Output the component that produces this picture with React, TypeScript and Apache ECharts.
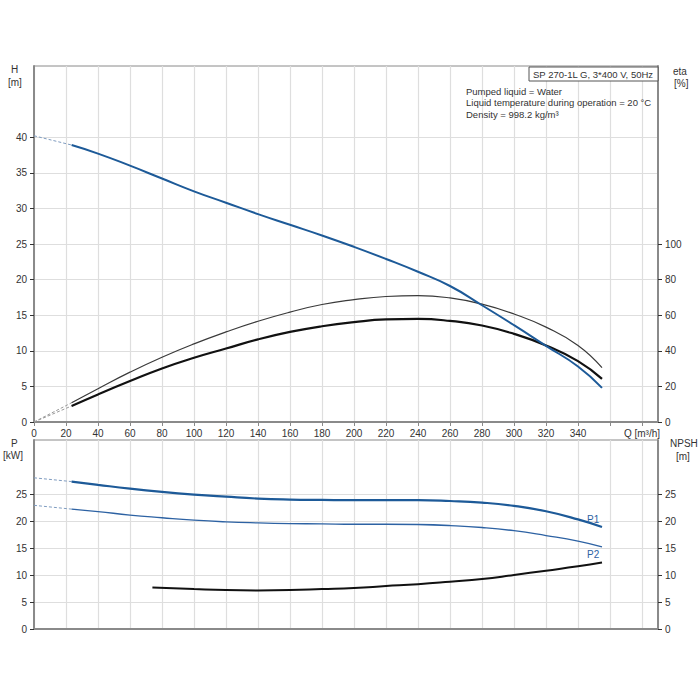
import React, { useEffect, useRef } from "react";
import * as echarts from "echarts";

// Flow values (m³/h) at which the curves were read
const qMain = [23.5, 40, 60, 80, 100, 120, 140, 160, 180, 200, 220, 240, 260, 280, 300, 320, 340, 355];
// Head H [m]
const headH = [38.9, 37.7, 36.0, 34.2, 32.4, 30.8, 29.2, 27.7, 26.2, 24.6, 22.9, 21.1, 19.1, 16.4, 13.6, 10.7, 7.8, 4.8];
// Efficiency (pump) [%]
const etaPump = [10.8, 18.7, 28.0, 36.4, 43.9, 50.6, 56.6, 61.7, 66.0, 68.7, 70.5, 71.0, 69.7, 66.2, 60.7, 53.3, 43.0, 30.5];
// Efficiency (total) [%]
const etaTotal = [9.0, 15.5, 23.0, 30.1, 36.1, 41.3, 46.4, 50.6, 53.8, 56.1, 57.6, 57.9, 56.8, 54.2, 49.5, 43.0, 34.2, 24.2];
// Power P1 / P2 [kW]
const powerP1 = [27.3, 26.7, 26.0, 25.4, 24.9, 24.5, 24.15, 23.97, 23.9, 23.85, 23.85, 23.85, 23.7, 23.4, 22.8, 21.8, 20.3, 18.9];
const powerP2 = [22.2, 21.75, 21.1, 20.6, 20.15, 19.84, 19.65, 19.53, 19.47, 19.4, 19.4, 19.35, 19.16, 18.8, 18.2, 17.3, 16.27, 15.2];
// NPSH [m]
const qNpsh = [74, 100, 120, 140, 160, 180, 200, 220, 240, 260, 280, 300, 320, 340, 355];
const npsh = [7.7, 7.39, 7.2, 7.15, 7.2, 7.39, 7.6, 7.95, 8.3, 8.75, 9.24, 10.0, 10.8, 11.6, 12.3];
// Extrapolated (dashed) parts from Q = 0
const headDashed = [[0, 40.2], [23.5, 38.9]];
const etaPumpDashed = [[0, 0], [23.5, 10.8]];
const etaTotalDashed = [[0, 0], [23.5, 9.0]];
const p1Dashed = [[0, 28.0], [23.5, 27.3]];
const p2Dashed = [[0, 22.9], [23.5, 22.2]];

// Tick labels
const qTicks = [0, 20, 40, 60, 80, 100, 120, 140, 160, 180, 200, 220, 240, 260, 280, 300, 320, 340, 360, 380];
const qLabels = [0, 20, 40, 60, 80, 100, 120, 140, 160, 180, 200, 220, 240, 260, 280, 300, 320, 340, 380];
const hLabels = [0, 5, 10, 15, 20, 25, 30, 35, 40];
const etaLabels = [0, 20, 40, 60, 80, 100];
const pLabels = [0, 5, 10, 15, 20, 25];

const infoTitle = "SP 270-1L G, 3*400 V, 50Hz";
const infoLines = ["Pumped liquid = Water", "Liquid temperature during operation = 20 °C", "Density = 998.2 kg/m³"];

const FONT = "Liberation Sans, Arial, sans-serif";
const AXIS_COLOR = "#8a8a8a";
const GRID_COLOR = "#dedede";
const TEXT_COLOR = "#333";
const BLUE = "#1d5a98";

const zip = (xs: number[], ys: number[]) => xs.map((x, i) => [x, ys[i]]);

export default function App() {
  const ref = useRef<HTMLDivElement>(null);
  useEffect(() => {
    if (!ref.current) return;
    const chart = echarts.init(ref.current, null, { renderer: "svg" });
    const labelStyle = { color: TEXT_COLOR, fontSize: 10, fontFamily: FONT };
    const xCommon = {
      type: "value",
      min: 0,
      max: 390,
      interval: 20,
      axisLine: { show: true, lineStyle: { color: AXIS_COLOR, width: 2 } },
      splitLine: { show: true, lineStyle: { color: GRID_COLOR, width: 1.2 } },
    };
    const line = (extra: any) => ({
      type: "line",
      showSymbol: false,
      symbol: "none",
      smooth: true,
      silent: true,
      ...extra,
    });
    const option: any = {
      animation: false,
      backgroundColor: "#fff",
      textStyle: { fontFamily: FONT },
      grid: [
        { left: 34, right: 42, top: 66, height: 356, show: true, borderColor: AXIS_COLOR, borderWidth: 1, containLabel: false },
        { left: 34, right: 42, top: 440, height: 189, show: true, borderColor: AXIS_COLOR, borderWidth: 1, containLabel: false },
      ],
      xAxis: [
        {
          ...xCommon,
          gridIndex: 0,
          axisTick: { show: true, length: 4, lineStyle: { color: AXIS_COLOR }, customValues: qTicks },
          axisLabel: {
            ...labelStyle,
            margin: 6,
            customValues: qLabels,
            formatter: (v: number) => (v === 380 ? "Q [m³/h]" : String(v)),
          },
        },
        {
          ...xCommon,
          gridIndex: 1,
          axisTick: { show: false },
          axisLabel: { show: false },
        },
      ],
      yAxis: [
        {
          type: "value",
          gridIndex: 0,
          min: 0,
          max: 50,
          interval: 5,
          position: "left",
          axisLine: { show: true, lineStyle: { color: AXIS_COLOR, width: 2 } },
          axisTick: { show: true, length: 4, lineStyle: { color: "#333" }, customValues: hLabels },
          axisLabel: { ...labelStyle, margin: 7, customValues: hLabels },
          splitLine: { show: true, lineStyle: { color: GRID_COLOR, width: 1.2 } },
        },
        {
          type: "value",
          gridIndex: 0,
          min: 0,
          max: 200,
          interval: 20,
          position: "right",
          axisLine: { show: true, lineStyle: { color: AXIS_COLOR, width: 2 } },
          axisTick: { show: true, length: 4, lineStyle: { color: "#333" }, customValues: etaLabels },
          axisLabel: { ...labelStyle, margin: 7, customValues: etaLabels },
          splitLine: { show: false },
        },
        {
          type: "value",
          gridIndex: 1,
          min: 0,
          max: 35,
          interval: 5,
          position: "left",
          axisLine: { show: true, lineStyle: { color: AXIS_COLOR, width: 2 } },
          axisTick: { show: true, length: 4, lineStyle: { color: "#333" }, customValues: pLabels },
          axisLabel: { ...labelStyle, margin: 7, customValues: pLabels },
          splitLine: { show: true, lineStyle: { color: GRID_COLOR, width: 1.2 } },
        },
        {
          type: "value",
          gridIndex: 1,
          min: 0,
          max: 35,
          interval: 5,
          position: "right",
          axisLine: { show: true, lineStyle: { color: AXIS_COLOR, width: 2 } },
          axisTick: { show: true, length: 4, lineStyle: { color: "#333" }, customValues: pLabels },
          axisLabel: { ...labelStyle, margin: 7, customValues: pLabels },
          splitLine: { show: false },
        },
      ],
      series: [
        // top chart
        line({ name: "H dashed", xAxisIndex: 0, yAxisIndex: 0, data: headDashed, smooth: false, lineStyle: { color: "#7f9cc0", width: 1, type: [3, 2] } }),
        line({ name: "eta pump dashed", xAxisIndex: 0, yAxisIndex: 1, data: etaPumpDashed, smooth: false, lineStyle: { color: "#999", width: 1, type: [3, 2] } }),
        line({ name: "eta total dashed", xAxisIndex: 0, yAxisIndex: 1, data: etaTotalDashed, smooth: false, lineStyle: { color: "#999", width: 1, type: [3, 2] } }),
        line({ name: "eta pump", xAxisIndex: 0, yAxisIndex: 1, data: zip(qMain, etaPump), lineStyle: { color: "#3a3a3a", width: 1.2 } }),
        line({ name: "eta total", xAxisIndex: 0, yAxisIndex: 1, data: zip(qMain, etaTotal), lineStyle: { color: "#111", width: 2.2 } }),
        line({ name: "H", xAxisIndex: 0, yAxisIndex: 0, data: zip(qMain, headH), lineStyle: { color: BLUE, width: 2 } }),
        // bottom chart
        line({ name: "P1 dashed", xAxisIndex: 1, yAxisIndex: 2, data: p1Dashed, smooth: false, lineStyle: { color: "#7f9cc0", width: 1, type: [3, 2] } }),
        line({ name: "P2 dashed", xAxisIndex: 1, yAxisIndex: 2, data: p2Dashed, smooth: false, lineStyle: { color: "#7f9cc0", width: 1, type: [3, 2] } }),
        line({
          name: "P1",
          xAxisIndex: 1,
          yAxisIndex: 2,
          data: zip(qMain, powerP1),
          lineStyle: { color: BLUE, width: 2.2 },
          endLabel: { show: true, formatter: "P1", offset: [-23, -7], color: "#2d62a3", fontSize: 10, fontFamily: FONT },
        }),
        line({
          name: "P2",
          xAxisIndex: 1,
          yAxisIndex: 2,
          data: zip(qMain, powerP2),
          lineStyle: { color: "#2d62a3", width: 1.3 },
          endLabel: { show: true, formatter: "P2", offset: [-23, 8], color: "#2d62a3", fontSize: 10, fontFamily: FONT },
        }),
        line({ name: "NPSH", xAxisIndex: 1, yAxisIndex: 3, data: zip(qNpsh, npsh), lineStyle: { color: "#111", width: 2 } }),
      ],
      graphic: [
        { type: "text", left: 11, top: 64, style: { text: "H", fill: TEXT_COLOR, font: `10px ${FONT}` } },
        { type: "text", left: 8, top: 77, style: { text: "[m]", fill: TEXT_COLOR, font: `10px ${FONT}` } },
        { type: "text", left: 673, top: 66, style: { text: "eta", fill: TEXT_COLOR, font: `10px ${FONT}` } },
        { type: "text", left: 674, top: 78, style: { text: "[%]", fill: TEXT_COLOR, font: `10px ${FONT}` } },
        { type: "text", left: 11, top: 438, style: { text: "P", fill: TEXT_COLOR, font: `10px ${FONT}` } },
        { type: "text", left: 3, top: 450, style: { text: "[kW]", fill: TEXT_COLOR, font: `10px ${FONT}` } },
        { type: "text", left: 670, top: 438, style: { text: "NPSH", fill: TEXT_COLOR, font: `10px ${FONT}` } },
        { type: "text", left: 676, top: 451, style: { text: "[m]", fill: TEXT_COLOR, font: `10px ${FONT}` } },
        {
          type: "rect",
          shape: { x: 529, y: 67, width: 129, height: 14 },
          style: { fill: "#fff", stroke: "#555", lineWidth: 1 },
          z: 10,
        },
        { type: "text", x: 533, y: 69, z: 11, style: { text: infoTitle, fill: TEXT_COLOR, font: `9.5px ${FONT}` } },
        ...infoLines.map((t, i) => ({
          type: "text",
          x: 466,
          y: 86 + i * 11.5,
          z: 11,
          style: { text: t, fill: TEXT_COLOR, font: `9.5px ${FONT}` },
        })),
      ],
    };
    chart.setOption(option);
    return () => chart.dispose();
  }, []);
  return <div ref={ref} style={{ position: "fixed", left: 0, top: 0, width: 700, height: 700, background: "#fff" }} />;
}
